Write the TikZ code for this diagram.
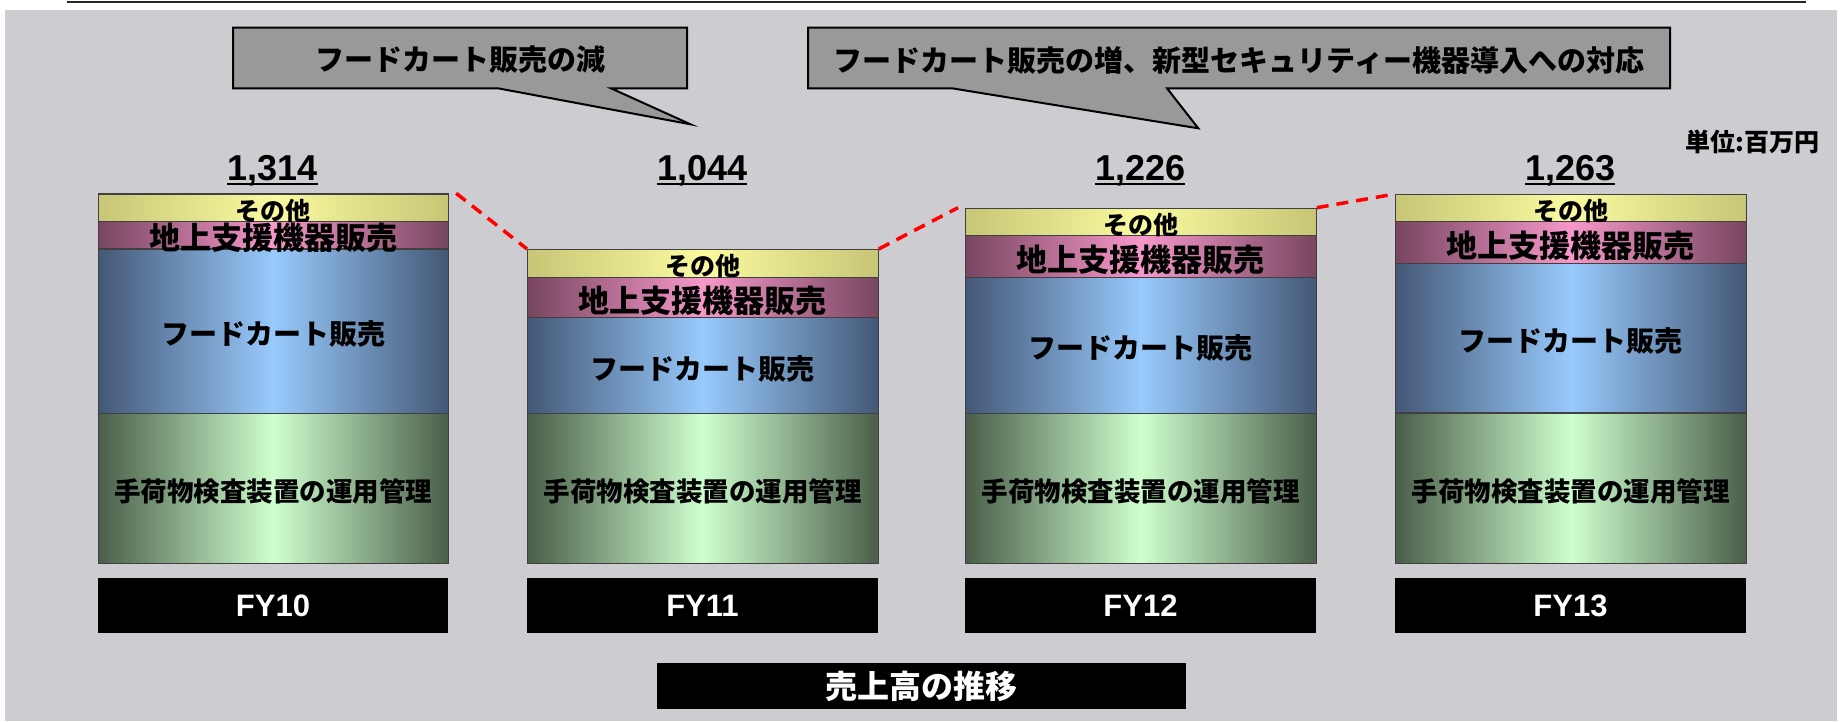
\documentclass[tikz,border=0pt]{standalone}
\usepackage{fontspec}
\setmainfont{Liberation Sans}
\newfontfamily\jp{Noto Sans CJK JP}[BoldFont={Noto Sans CJK JP Black}]
\usetikzlibrary{calc}

\definecolor{bggray}{RGB}{204,204,209}
\definecolor{callgray}{RGB}{153,153,153}
\definecolor{ylwedge}{RGB}{198,198,118}
\definecolor{ylwmid}{RGB}{250,250,160}
\definecolor{pnkedge}{RGB}{120,70,96}
\definecolor{pnkmid}{RGB}{246,152,202}
\definecolor{bluedge}{RGB}{68,88,118}
\definecolor{blumid}{RGB}{152,202,252}
\definecolor{grnedge}{RGB}{74,94,74}
\definecolor{grnmid}{RGB}{206,255,206}

\begin{document}
\begin{tikzpicture}[x=1pt,y=-1pt,
    band/.style={draw=black!75, line width=1.2pt, inner sep=0pt, minimum width=350.5pt, anchor=north west},
    other/.style={band, left color=ylwedge, right color=ylwedge, middle color=ylwmid},
    gse/.style={band, left color=pnkedge, right color=pnkedge, middle color=pnkmid},
    cart/.style={band, left color=bluedge, right color=bluedge, middle color=blumid},
    baggage/.style={band, left color=grnedge, right color=grnedge, middle color=grnmid},
    otherlbl/.style={inner sep=0pt, font=\jp\bfseries\fontsize{25}{25}\selectfont},
    gselbl/.style={inner sep=0pt, font=\jp\bfseries\fontsize{31}{31}\selectfont},
    cartlbl/.style={inner sep=0pt, font=\jp\bfseries\fontsize{28}{28}\selectfont},
    baglbl/.style={inner sep=0pt, font=\jp\bfseries\fontsize{26.5}{26.5}\selectfont},
    total/.style={anchor=base, inner sep=0pt, font=\bfseries\fontsize{36}{36}\selectfont},
    fy/.style={fill=black, inner sep=0pt, minimum width=350.5pt, minimum height=55pt, anchor=north west, text=white, font=\bfseries\fontsize{31}{31}\selectfont},
    callout/.style={fill=callgray, draw=black, line width=2pt, line join=miter},
    calllbl/.style={inner sep=0pt, font=\jp\bfseries\fontsize{29}{29}\selectfont},
    trend/.style={red, line width=3.5pt, dash pattern=on 12pt off 8pt}]

\useasboundingbox (0,0) rectangle (1845,721);

% background and header rule
\fill[bggray] (5,10) rectangle (1837,721);
\draw[line width=2.5pt, black!85] (67,2) -- (1806,2);

% callouts
\filldraw[callout] (233,27.7) -- (687,27.7) -- (687,88.3) -- (611,88.3) -- (690.5,124.3) -- (498,88.3) -- (233,88.3) -- cycle;
\node[calllbl] (down) at (460,60) {フードカート販売の減};
\filldraw[callout] (808,27.7) -- (1670,27.7) -- (1670,88.3) -- (1167,88.3) -- (1198.3,128.3) -- (952,88.3) -- (808,88.3) -- cycle;
\node[calllbl] (up) at (1239,60) {フードカート販売の増、新型セキュリティー機器導入への対応};

\node[otherlbl] (unit) at (1752.5,141.7) {単位:百万円};

% FY10
\node[other, minimum height=27.7pt] (o1) at (97.5,193.3) {};
\node[gse, minimum height=27.3pt] (g1) at (97.5,221) {};
\node[cart, minimum height=164.7pt] (c1) at (97.5,248.3) {};
\node[baggage, minimum height=150pt] (m1) at (97.5,413) {};

% FY11
\node[other, minimum height=27.7pt] (o2) at (527,249) {};
\node[gse, minimum height=40.3pt] (g2) at (527,276.7) {};
\node[cart, minimum height=95.7pt] (c2) at (527,317) {};
\node[baggage, minimum height=150.3pt] (m2) at (527,412.7) {};

% FY12
\node[other, minimum height=27.3pt] (o3) at (965,207.7) {};
\node[gse, minimum height=41.7pt] (g3) at (965,235) {};
\node[cart, minimum height=135.8pt] (c3) at (965,276.7) {};
\node[baggage, minimum height=150.5pt] (m3) at (965,412.5) {};

% FY13
\node[other, minimum height=27pt] (o4) at (1395,194) {};
\node[gse, minimum height=41.7pt] (g4) at (1395,221) {};
\node[cart, minimum height=149.6pt] (c4) at (1395,262.7) {};
\node[baggage, minimum height=150.7pt] (m4) at (1395,412.3) {};

% band labels
\node[otherlbl] at ([yshift=-3pt]o1.center) {その他};
\node[gselbl] at ([yshift=-3pt]g1.center) {地上支援機器販売};
\node[cartlbl] at ([yshift=-3pt]c1.center) {フードカート販売};
\node[baglbl] at ([yshift=-3pt]m1.center) {手荷物検査装置の運用管理};
\node[otherlbl] at ([yshift=-3pt]o2.center) {その他};
\node[gselbl] at ([yshift=-3pt]g2.center) {地上支援機器販売};
\node[cartlbl] at ([yshift=-3pt]c2.center) {フードカート販売};
\node[baglbl] at ([yshift=-3pt]m2.center) {手荷物検査装置の運用管理};
\node[otherlbl] at ([yshift=-3pt]o3.center) {その他};
\node[gselbl] at ([yshift=-3pt]g3.center) {地上支援機器販売};
\node[cartlbl] at ([yshift=-3pt]c3.center) {フードカート販売};
\node[baglbl] at ([yshift=-3pt]m3.center) {手荷物検査装置の運用管理};
\node[otherlbl] at ([yshift=-3pt]o4.center) {その他};
\node[gselbl] at ([yshift=-3pt]g4.center) {地上支援機器販売};
\node[cartlbl] at ([yshift=-3pt]c4.center) {フードカート販売};
\node[baglbl] at ([yshift=-3pt]m4.center) {手荷物検査装置の運用管理};

% totals
\node[total] (v1) at (272.7,180) {1,314};
\node[total] (v2) at (702.2,180) {1,044};
\node[total] (v3) at (1140.2,180) {1,226};
\node[total] (v4) at (1570.2,180) {1,263};
\draw[line width=2.2pt] ([yshift=-4pt]v1.base west) -- ([yshift=-4pt]v1.base east);
\draw[line width=2.2pt] ([yshift=-4pt]v2.base west) -- ([yshift=-4pt]v2.base east);
\draw[line width=2.2pt] ([yshift=-4pt]v3.base west) -- ([yshift=-4pt]v3.base east);
\draw[line width=2.2pt] ([yshift=-4pt]v4.base west) -- ([yshift=-4pt]v4.base east);

% trend
\draw[trend] ([xshift=7pt]o1.north east) -- (o2.north west);
\draw[trend] (o2.north east) -- ([xshift=-7pt]o3.north west);
\draw[trend] (o3.north east) -- (o4.north west);

% years
\node[fy] (f1) at (97.5,577.7) {FY10};
\node[fy] (f2) at (527,577.7) {FY11};
\node[fy] (f3) at (965,577.7) {FY12};
\node[fy] (f4) at (1395,577.7) {FY13};

\node[fill=black, inner sep=0pt, minimum width=529pt, minimum height=46pt, text=white, font=\jp\bfseries\fontsize{32}{32}\selectfont] (title) at (921.5,686) {売上高の推移};
\end{tikzpicture}
\end{document}
